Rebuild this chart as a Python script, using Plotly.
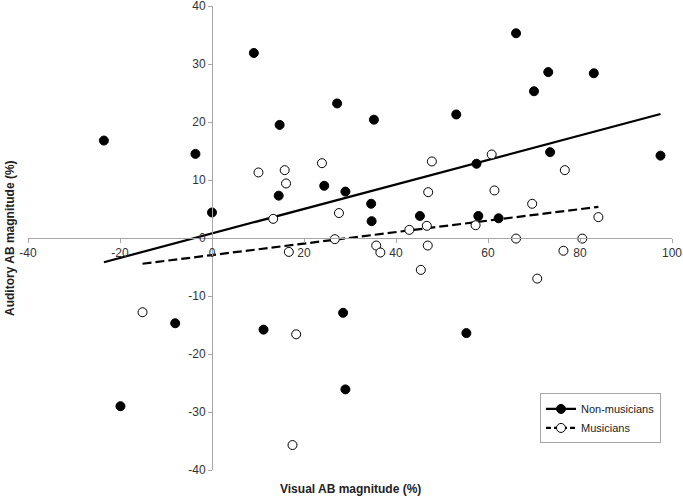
import numpy as np
import plotly.graph_objects as go

# Non-musicians (filled)
nm_x = [-23.5, -3.6, 0.0, 9.1, 14.7, 27.2, 35.2, 53.1, 14.5, 24.4, 29.0, 34.6, 34.7, 45.2,
        66.1, 73.1, 83.0, 70.0, 73.5, 97.5, 57.5, 57.9, 62.3, -8.0, -19.9, 28.5, 11.2, 29.0, 55.3]
nm_y = [16.8, 14.5, 4.4, 31.9, 19.5, 23.2, 20.4, 21.3, 7.3, 9.0, 8.0, 5.9, 2.9, 3.8,
        35.3, 28.6, 28.4, 25.3, 14.8, 14.2, 12.8, 3.8, 3.4, -14.7, -29.0, -12.9, -15.8, -26.1, -16.4]

# Musicians (open)
mu_x = [10.1, 15.8, 16.1, 23.9, 13.3, 27.6, 47.8, 47.0, 46.7, 42.9, 26.7, 35.7, 46.9,
        60.8, 76.7, 61.4, 69.6, 84.0, 57.3, 66.1, 80.5,
        16.7, 36.6, 45.4, 18.3, 17.5, 76.4, 70.7, -15.1]
mu_y = [11.3, 11.7, 9.4, 12.9, 3.3, 4.3, 13.2, 7.9, 2.1, 1.4, -0.2, -1.3, -1.3,
        14.4, 11.7, 8.2, 5.9, 3.6, 2.2, -0.1, -0.1,
        -2.4, -2.5, -5.5, -16.6, -35.7, -2.2, -7.0, -12.8]

x_ticks = [-40, -20, 0, 20, 40, 60, 80, 100]
y_ticks = [-40, -30, -20, -10, 0, 10, 20, 30, 40]

FONT = "Liberation Sans, Arial, sans-serif"
DASH = "9px,4px"

def fit_line(xs, ys):
    a, b = np.polyfit(xs, ys, 1)
    xr = np.array([min(xs), max(xs)])
    return xr, a * xr + b

fig = go.Figure()

lx, ly = fit_line(nm_x, nm_y)
fig.add_trace(go.Scatter(x=lx, y=ly, mode="lines", line=dict(color="black", width=2.2),
                         showlegend=False, hoverinfo="skip"))
lx2, ly2 = fit_line(mu_x, mu_y)
fig.add_trace(go.Scatter(x=lx2, y=ly2, mode="lines", line=dict(color="black", width=2.2, dash=DASH),
                         showlegend=False, hoverinfo="skip"))

fig.add_trace(go.Scatter(x=nm_x, y=nm_y, mode="markers",
                         marker=dict(size=9, color="black", line=dict(color="black", width=1)),
                         showlegend=False))
fig.add_trace(go.Scatter(x=mu_x, y=mu_y, mode="markers",
                         marker=dict(size=9, color="white", line=dict(color="black", width=1)),
                         showlegend=False))

# legend entries
fig.add_trace(go.Scatter(x=[None], y=[None], mode="lines+markers", name="Non-musicians",
                         line=dict(color="black", width=2.2),
                         marker=dict(size=9, color="black", line=dict(color="black", width=1))))
fig.add_trace(go.Scatter(x=[None], y=[None], mode="lines+markers", name="Musicians",
                         line=dict(color="black", width=2.2, dash="5px,3px"),
                         marker=dict(size=9, color="white", line=dict(color="black", width=1))))

fig.update_layout(
    width=683, height=498,
    margin=dict(l=28, r=11, t=6, b=28, autoexpand=False),
    paper_bgcolor="white", plot_bgcolor="white",
    font=dict(family=FONT, size=12, color="#222"),
    xaxis=dict(range=[-40, 100], tickvals=x_ticks, ticktext=[str(v) for v in x_ticks],
               showgrid=False, zeroline=False, showline=True, linecolor="#A6A6A6", linewidth=1,
               ticks="outside", ticklen=4, tickcolor="#A6A6A6", automargin=False,
               ticklabeloverflow="allow",
               anchor="free", position=0.5, tickfont=dict(size=12, color="#333")),
    yaxis=dict(range=[-40, 40], tickvals=y_ticks, ticktext=[str(v) for v in y_ticks],
               showgrid=False, zeroline=False, showline=True, linecolor="#A6A6A6", linewidth=1,
               ticks="outside", ticklen=4, tickcolor="#A6A6A6", automargin=False,
               ticklabeloverflow="allow",
               anchor="free", position=40/140, tickfont=dict(size=12, color="#333")),
    legend=dict(x=0.795, y=0.165, xanchor="left", yanchor="top",
                bordercolor="#A6A6A6", borderwidth=1, bgcolor="white",
                font=dict(size=11, color="#222"), tracegroupgap=0, itemwidth=30),
    annotations=[
        dict(text="<b>Visual AB magnitude (%)</b>", x=0.5, y=-0.041, xref="paper", yref="paper",
             xanchor="center", yanchor="middle", showarrow=False, font=dict(size=12, color="#222")),
        dict(text="<b>Auditory AB magnitude (%)</b>", x=-0.042, y=0.5, xref="paper", yref="paper",
             xanchor="left", yanchor="middle", textangle=-90, showarrow=False,
             font=dict(size=12, color="#222")),
    ],
)

fig.write_html("out.html", config={"displayModeBar": False},
               post_script="document.body.style.margin='0';")
